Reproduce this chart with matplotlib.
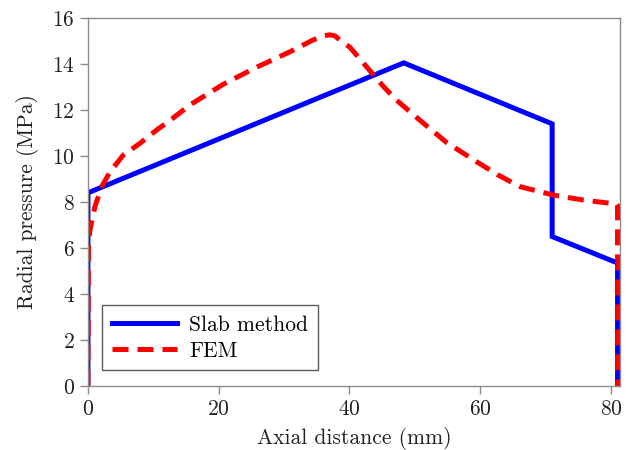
import matplotlib
matplotlib.use("Agg")
import matplotlib.pyplot as plt

plt.rcParams['font.family'] = 'serif'
plt.rcParams['font.serif'] = ['cmr10', 'DejaVu Serif']
plt.rcParams['mathtext.fontset'] = 'cm'
plt.rcParams['axes.formatter.use_mathtext'] = True

slab_x = [0, 0, 48.3, 71.0, 71.0, 81.0, 81.0]
slab_y = [0, 8.4, 14.05, 11.4, 6.5, 5.35, 0]

fem_x = [0, 0.08, 0.3, 1.07, 2.1, 3.4, 5.4, 7.95, 10.5, 12.3, 15.6, 20.7, 25.8, 30.9,
         34.4, 36.0, 37.0, 37.8, 38.7, 40.1, 41.6, 43.6, 45.4, 47.2, 50.8, 54.8, 58.9,
         62.7, 66.1, 71.2, 75.7, 79.8, 80.8, 81.0, 81.0]
fem_y = [0, 6.0, 6.78, 7.8, 8.67, 9.32, 10.04, 10.55, 11.13, 11.49, 12.22, 13.12, 13.86,
         14.53, 15.04, 15.22, 15.27, 15.22, 15.0, 14.72, 14.22, 13.55, 12.96, 12.43, 11.55,
         10.6, 9.85, 9.18, 8.67, 8.3, 8.09, 7.95, 7.94, 7.85, 0]

fig = plt.figure(figsize=(6.28, 4.5), dpi=100)
ax = fig.add_axes([0.140, 0.142, 0.847, 0.818])

ax.plot(slab_x, slab_y, color='#0000ff', lw=3.6, label='Slab method',
        solid_joinstyle='miter')
ax.plot(fem_x, fem_y, color='#ff0000', lw=3.6, ls=(0, (3.2, 1.8)), label='FEM')

ax.set_xlim(0, 81.35)
ax.set_ylim(0, 16)
ax.set_xticks([0, 20, 40, 60, 80])
ax.set_yticks([0, 2, 4, 6, 8, 10, 12, 14, 16])

gray = '#8c8c8c'
for s in ax.spines.values():
    s.set_color(gray)
    s.set_linewidth(1.0)
ax.tick_params(axis='both', which='both', direction='out', length=6, width=1.0,
               color=gray, labelsize=15.5, labelcolor='#222222', top=False, right=False)

ax.set_xlabel('Axial distance (mm)', fontsize=15.5, color='#222222', labelpad=6)
ax.set_ylabel('Radial pressure (MPa)', fontsize=15.5, color='#222222', labelpad=9)

leg = ax.legend(loc='lower left', bbox_to_anchor=(0.027, 0.043), fontsize=15.5,
                frameon=True, fancybox=False, handlelength=3.0, borderpad=0.45,
                labelspacing=0.3, handletextpad=0.6, borderaxespad=0.0)
leg.get_frame().set_edgecolor('#333333')
leg.get_frame().set_linewidth(1.0)

fig.savefig('out.png', dpi=100)
